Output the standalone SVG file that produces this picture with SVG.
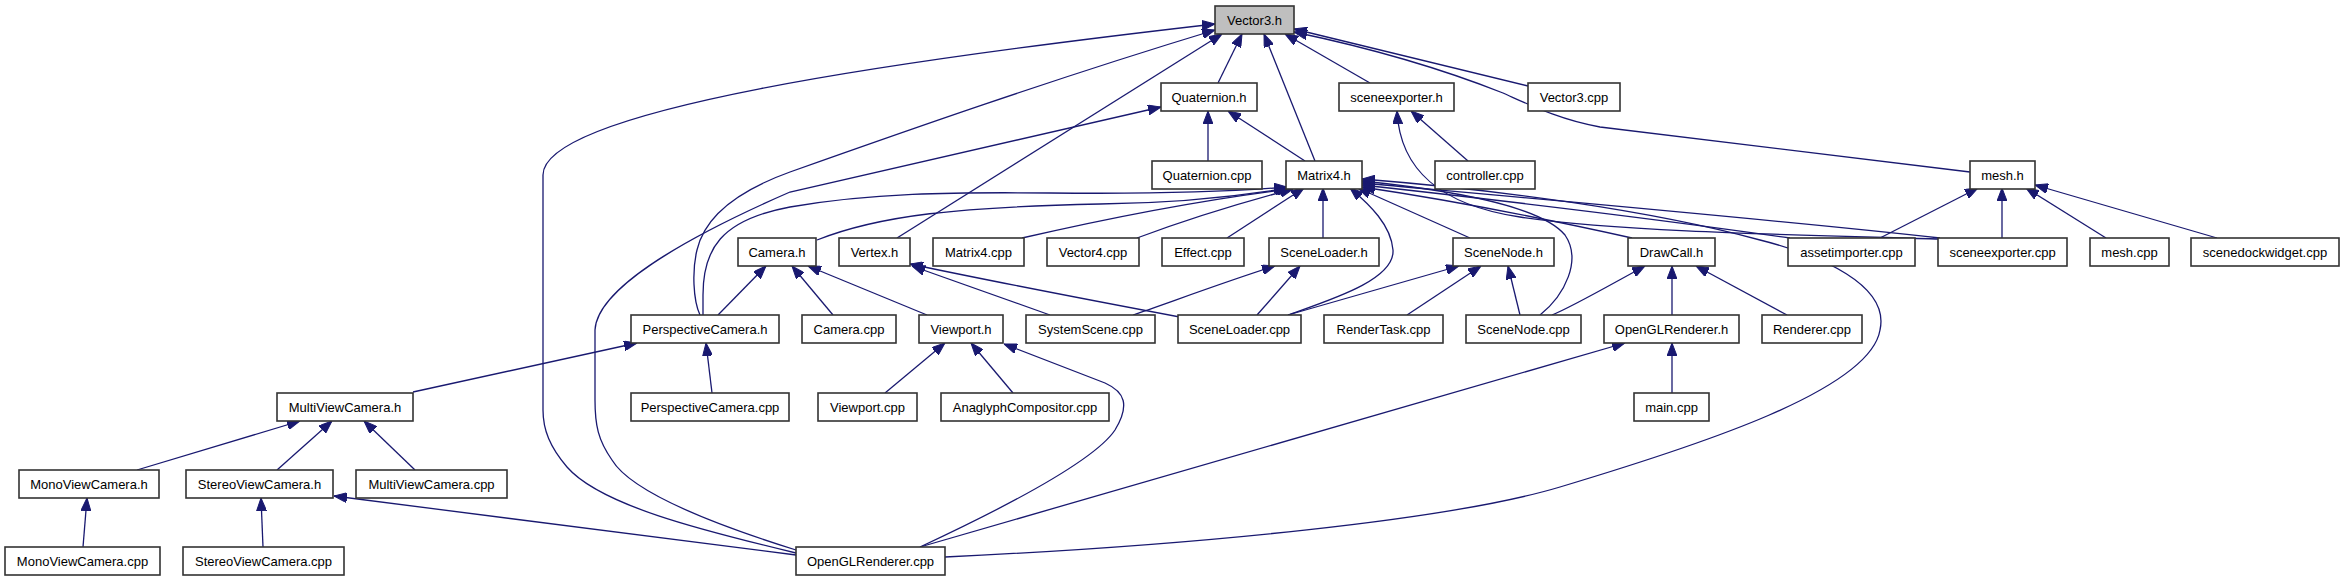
<svg xmlns="http://www.w3.org/2000/svg" width="2344" height="581" viewBox="0 0 2344 581">
<style>
.node rect{fill:#ffffff;stroke:#333333;stroke-width:1.6}
.root rect{fill:#bfbfbf}
.node text{font-family:"Liberation Sans",Arial,Helvetica,sans-serif;font-size:13px;fill:#000;text-anchor:middle}
.edges path{fill:none;stroke:#191970;stroke-width:1.3;marker-end:url(#arr)}
</style>
<defs>
<marker id="arr" markerUnits="userSpaceOnUse" viewBox="0 0 13 10" markerWidth="13" markerHeight="10" refX="13" refY="5" orient="auto">
<path d="M0,0 L13,5 L0,10 z" fill="#191970" stroke="#191970" stroke-width="1"/>
</marker>
</defs>
<rect width="2344" height="581" fill="#ffffff"/>
<g class="edges" id="edges">
<path d="M1218,83 L1242,34"/>
<path d="M1315,161 L1264,34"/>
<path d="M1370,83 L1285,34"/>
<path d="M1528,86 L1294,29"/>
<path d="M1970,172 L1600,127 C1560,120 1530,105 1503,93 C1450,72 1380,50 1294,32"/>
<path d="M897,238 L1222,34"/>
<path d="M700,315 C693,300 692,270 697,250 C705,215 740,190 790,172 C900,133 1050,80 1215,30"/>
<path d="M796,553 C700,530 600,505 567,467 C550,447 543,430 543,410 L543,175 C543,110 900,60 1215,24"/>
<path d="M1208,161 L1208,111"/>
<path d="M1305,161 L1228,111"/>
<path d="M796,550 C700,520 630,490 612,460 C598,440 595,425 595,400 L595,330 C597,290 680,240 790,192 L1161,107"/>
<path d="M703,315 L703,295 C703,250 720,220 790,207 C870,193 950,192 1050,193 C1150,194 1230,192 1287,187"/>
<path d="M817,240 C880,215 960,207 1100,204 C1180,203 1240,196 1288,188"/>
<path d="M1022,238 C1100,220 1200,200 1290,189"/>
<path d="M1137,238 C1180,222 1240,203 1293,189"/>
<path d="M1227,238 L1304,188"/>
<path d="M1323,238 L1323,188"/>
<path d="M1288,315 C1330,300 1395,280 1393,250 C1391,225 1370,205 1350,188"/>
<path d="M1470,238 L1358,188"/>
<path d="M1632,238 C1560,222 1450,200 1362,187"/>
<path d="M1790,238 C1650,218 1480,198 1362,185"/>
<path d="M1940,238 C1800,222 1550,200 1362,183"/>
<path d="M1540,315 C1565,295 1582,260 1565,235 C1540,205 1450,190 1362,181"/>
<path d="M945,557 C1200,545 1450,520 1560,487 C1700,445 1870,390 1880,330 C1890,285 1820,255 1760,240 C1650,210 1500,190 1362,179"/>
<path d="M1940,239 C1800,235 1620,232 1520,217 C1440,205 1400,170 1397,111"/>
<path d="M1468,161 L1411,111"/>
<path d="M1880,238 L1978,188"/>
<path d="M2002,238 L2002,188"/>
<path d="M2106,238 L2026,188"/>
<path d="M2217,238 L2035,185"/>
<path d="M718,315 L766,266"/>
<path d="M833,315 L792,266"/>
<path d="M927,315 L808,266"/>
<path d="M1050,315 L912,266"/>
<path d="M1185,318 C1100,302 1000,283 910,264"/>
<path d="M1133,315 C1160,306 1230,280 1275,266"/>
<path d="M1257,315 L1300,266"/>
<path d="M1288,315 L1459,266"/>
<path d="M1407,315 L1481,266"/>
<path d="M1520,315 L1508,266"/>
<path d="M1552,315 C1570,308 1610,285 1645,266"/>
<path d="M1672,315 L1672,266"/>
<path d="M1787,315 L1696,266"/>
<path d="M1672,393 L1672,343"/>
<path d="M920,547 L1625,343"/>
<path d="M920,547 C1010,505 1095,460 1115,430 C1130,405 1125,392 1105,383 L1004,344"/>
<path d="M885,393 L945,343"/>
<path d="M1013,393 L971,343"/>
<path d="M712,393 L706,343"/>
<path d="M413,392 L637,343"/>
<path d="M137,470 L300,421"/>
<path d="M277,470 L332,421"/>
<path d="M415,470 L364,421"/>
<path d="M83,547 L87,498"/>
<path d="M263,547 L261,498"/>
<path d="M796,555 L334,496"/>
</g>
<g id="n_vector3h" class="node root"><rect x="1215" y="6" width="79" height="28"/><text x="1254.5" y="24.5">Vector3.h</text></g>
<g id="n_quaternionh" class="node"><rect x="1161" y="83" width="96" height="28"/><text x="1209" y="101.5">Quaternion.h</text></g>
<g id="n_sceneexporterh" class="node"><rect x="1339" y="83" width="115" height="28"/><text x="1396.5" y="101.5">sceneexporter.h</text></g>
<g id="n_vector3cpp" class="node"><rect x="1528" y="83" width="92" height="28"/><text x="1574" y="101.5">Vector3.cpp</text></g>
<g id="n_quaternioncpp" class="node"><rect x="1152" y="161" width="110" height="28"/><text x="1207" y="179.5">Quaternion.cpp</text></g>
<g id="n_matrix4h" class="node"><rect x="1286" y="161" width="76" height="28"/><text x="1324" y="179.5">Matrix4.h</text></g>
<g id="n_controllercpp" class="node"><rect x="1435" y="161" width="100" height="28"/><text x="1485" y="179.5">controller.cpp</text></g>
<g id="n_meshh" class="node"><rect x="1970" y="161" width="65" height="28"/><text x="2002.5" y="179.5">mesh.h</text></g>
<g id="n_camerah" class="node"><rect x="738" y="238" width="78" height="28"/><text x="777" y="256.5">Camera.h</text></g>
<g id="n_vertexh" class="node"><rect x="839" y="238" width="71" height="28"/><text x="874.5" y="256.5">Vertex.h</text></g>
<g id="n_matrix4cpp" class="node"><rect x="933" y="238" width="91" height="28"/><text x="978.5" y="256.5">Matrix4.cpp</text></g>
<g id="n_vector4cpp" class="node"><rect x="1047" y="238" width="92" height="28"/><text x="1093" y="256.5">Vector4.cpp</text></g>
<g id="n_effectcpp" class="node"><rect x="1162" y="238" width="82" height="28"/><text x="1203" y="256.5">Effect.cpp</text></g>
<g id="n_sceneloaderh" class="node"><rect x="1269" y="238" width="110" height="28"/><text x="1324" y="256.5">SceneLoader.h</text></g>
<g id="n_scenenodeh" class="node"><rect x="1453" y="238" width="101" height="28"/><text x="1503.5" y="256.5">SceneNode.h</text></g>
<g id="n_drawcallh" class="node"><rect x="1628" y="238" width="87" height="28"/><text x="1671.5" y="256.5">DrawCall.h</text></g>
<g id="n_assetimportercpp" class="node"><rect x="1788" y="238" width="127" height="28"/><text x="1851.5" y="256.5">assetimporter.cpp</text></g>
<g id="n_sceneexportercpp" class="node"><rect x="1938" y="238" width="129" height="28"/><text x="2002.5" y="256.5">sceneexporter.cpp</text></g>
<g id="n_meshcpp" class="node"><rect x="2090" y="238" width="79" height="28"/><text x="2129.5" y="256.5">mesh.cpp</text></g>
<g id="n_scenedockwidgetcpp" class="node"><rect x="2191" y="238" width="148" height="28"/><text x="2265" y="256.5">scenedockwidget.cpp</text></g>
<g id="n_perspectivecamerah" class="node"><rect x="631" y="315" width="148" height="28"/><text x="705" y="333.5">PerspectiveCamera.h</text></g>
<g id="n_cameracpp" class="node"><rect x="802" y="315" width="94" height="28"/><text x="849" y="333.5">Camera.cpp</text></g>
<g id="n_viewporth" class="node"><rect x="919" y="315" width="84" height="28"/><text x="961" y="333.5">Viewport.h</text></g>
<g id="n_systemscenecpp" class="node"><rect x="1026" y="315" width="129" height="28"/><text x="1090.5" y="333.5">SystemScene.cpp</text></g>
<g id="n_sceneloadercpp" class="node"><rect x="1178" y="315" width="123" height="28"/><text x="1239.5" y="333.5">SceneLoader.cpp</text></g>
<g id="n_rendertaskcpp" class="node"><rect x="1324" y="315" width="119" height="28"/><text x="1383.5" y="333.5">RenderTask.cpp</text></g>
<g id="n_scenenodecpp" class="node"><rect x="1466" y="315" width="115" height="28"/><text x="1523.5" y="333.5">SceneNode.cpp</text></g>
<g id="n_openglrendererh" class="node"><rect x="1604" y="315" width="135" height="28"/><text x="1671.5" y="333.5">OpenGLRenderer.h</text></g>
<g id="n_renderercpp" class="node"><rect x="1762" y="315" width="100" height="28"/><text x="1812" y="333.5">Renderer.cpp</text></g>
<g id="n_multiviewcamerah" class="node"><rect x="277" y="393" width="136" height="28"/><text x="345" y="411.5">MultiViewCamera.h</text></g>
<g id="n_perspectivecameracpp" class="node"><rect x="631" y="393" width="158" height="28"/><text x="710" y="411.5">PerspectiveCamera.cpp</text></g>
<g id="n_viewportcpp" class="node"><rect x="818" y="393" width="99" height="28"/><text x="867.5" y="411.5">Viewport.cpp</text></g>
<g id="n_anaglyphcompositorcpp" class="node"><rect x="941" y="393" width="168" height="28"/><text x="1025" y="411.5">AnaglyphCompositor.cpp</text></g>
<g id="n_maincpp" class="node"><rect x="1634" y="393" width="75" height="28"/><text x="1671.5" y="411.5">main.cpp</text></g>
<g id="n_monoviewcamerah" class="node"><rect x="19" y="470" width="140" height="28"/><text x="89" y="488.5">MonoViewCamera.h</text></g>
<g id="n_stereoviewcamerah" class="node"><rect x="186" y="470" width="147" height="28"/><text x="259.5" y="488.5">StereoViewCamera.h</text></g>
<g id="n_multiviewcameracpp" class="node"><rect x="356" y="470" width="151" height="28"/><text x="431.5" y="488.5">MultiViewCamera.cpp</text></g>
<g id="n_monoviewcameracpp" class="node"><rect x="5" y="547" width="155" height="28"/><text x="82.5" y="565.5">MonoViewCamera.cpp</text></g>
<g id="n_stereoviewcameracpp" class="node"><rect x="183" y="547" width="161" height="28"/><text x="263.5" y="565.5">StereoViewCamera.cpp</text></g>
<g id="n_openglrenderercpp" class="node"><rect x="796" y="547" width="149" height="28"/><text x="870.5" y="565.5">OpenGLRenderer.cpp</text></g>
</svg>
